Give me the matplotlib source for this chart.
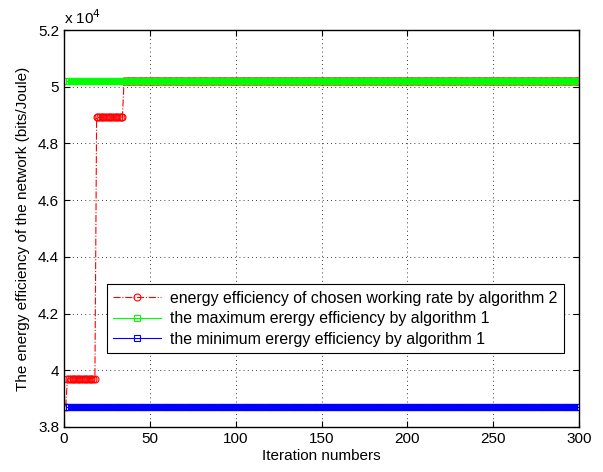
import numpy as np
import matplotlib
matplotlib.use("Agg")
import matplotlib.pyplot as plt
from matplotlib.ticker import FuncFormatter, MultipleLocator

plt.rcParams['font.family'] = ['Liberation Sans', 'DejaVu Sans']

# iterations
iters = np.arange(1, 301)

# red step series: (level, number of iterations at that level)
red_levels = [38720, 39700, 48920, 50200]
red_counts = [1, 17, 16, 266]
red_vals = np.repeat(red_levels, red_counts)

max_ee = np.full(300, 50200.0)
min_ee = np.full(300, 38720.0)

labels = ['energy efficiency of chosen working rate by algorithm 2',
          'the maximum erergy efficiency by algorithm 1',
          'the minimum erergy efficiency by algorithm 1']

fig = plt.figure(figsize=(6.03, 4.72), dpi=100)
ax = fig.add_axes([64 / 603, 1 - 427 / 472, 515 / 603, 397 / 472])

ax.plot(iters, red_vals, color='red', linestyle='-.', linewidth=0.8,
        marker='o', markersize=5, markerfacecolor='none', markeredgewidth=0.8,
        label=labels[0])
ax.plot(iters, max_ee, color=(0, 1, 0), linestyle='-', linewidth=0.8,
        marker='s', markersize=4.6, markerfacecolor='none', markeredgewidth=0.8,
        label=labels[1])
ax.plot(iters, min_ee, color=(0, 0, 1), linestyle='-', linewidth=0.8,
        marker='s', markersize=4.6, markerfacecolor='none', markeredgewidth=0.8,
        label=labels[2])

ax.set_xlim(0, 300)
ax.set_ylim(38000, 52000)
ax.xaxis.set_major_locator(MultipleLocator(50))
ax.yaxis.set_major_locator(MultipleLocator(2000))
ax.yaxis.set_major_formatter(FuncFormatter(lambda v, p: '%g' % (v / 1e4)))
ax.grid(True, color='black', linestyle=(0, (1, 4)), linewidth=0.6)
ax.tick_params(direction='in', top=True, right=True, labelsize=11, length=4)
for s in ax.spines.values():
    s.set_linewidth(1.0)

ax.text(0.0, 1.008, r'x 10$^4$', transform=ax.transAxes, fontsize=11,
        ha='left', va='bottom')

ax.set_xlabel('Iteration numbers', fontsize=11, labelpad=2)
ax.set_ylabel('The energy efficiency of the network (bits/Joule)', fontsize=11, labelpad=6)

leg = ax.legend(loc='lower left', bbox_to_anchor=(0.083, 0.186, 0.9, 0.18),
                fontsize=11.4, frameon=True, fancybox=False, framealpha=1,
                edgecolor='black', borderpad=0.4, labelspacing=0.35,
                handlelength=3.0, handletextpad=0.6, borderaxespad=0)
leg.get_frame().set_linewidth(0.8)
for h in leg.legend_handles:
    h.set_markersize(5)

fig.savefig('out.png', dpi=100)
